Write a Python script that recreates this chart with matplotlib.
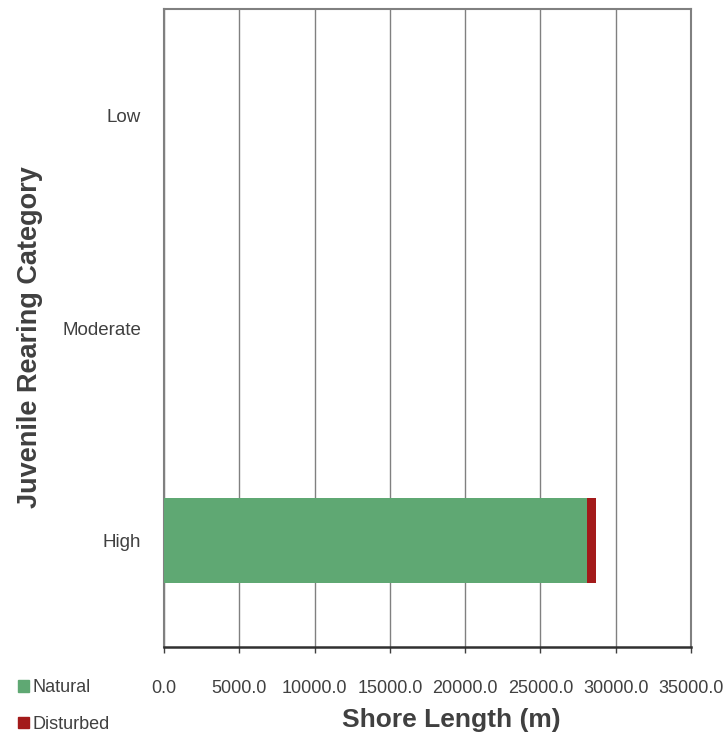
import matplotlib.pyplot as plt
from matplotlib.patches import Patch

plt.rcParams['font.family'] = ['Liberation Sans', 'DejaVu Sans']

categories = ['High', 'Moderate', 'Low']
natural = [28100, 0, 0]
disturbed = [600, 0, 0]
x_ticks = [0, 5000, 10000, 15000, 20000, 25000, 30000, 35000]

green = '#5fa873'
red = '#a31a1a'
txt = '#404040'

fig = plt.figure(figsize=(7.25, 7.38), dpi=100)
ax = fig.add_axes([164/725, 1-647/738, (691-164)/725, (647-9)/738])

ypos = list(range(len(categories)))
ax.barh(ypos, natural, height=0.4, color=green, zorder=3)
ax.barh(ypos, disturbed, left=natural, height=0.4, color=red, zorder=3)

ax.set_xlim(0, 35000)
ax.set_ylim(-0.5, 2.5)
ax.set_xticks(x_ticks)
ax.set_xticklabels(['{:.1f}'.format(v) for v in x_ticks])
ax.set_yticks(ypos)
ax.set_yticklabels(categories)
ax.grid(axis='x', color='#808080', linewidth=1, zorder=0)
ax.tick_params(axis='x', direction='out', length=4, width=1, colors='#404040',
               labelcolor=txt, pad=20, labelsize=13)
ax.tick_params(axis='y', length=0, pad=16.5, labelsize=13.5, labelcolor=txt)

for s in ['left', 'right', 'top']:
    ax.spines[s].set_color('#808080')
    ax.spines[s].set_linewidth(1.5)
ax.spines['bottom'].set_color('#303030')
ax.spines['bottom'].set_linewidth(1.8)

fig.text(451/725, 1-720/738, 'Shore Length (m)', fontsize=19, fontweight='bold',
         color=txt, ha='center', va='center')
fig.text(30/725, 1-337/738, 'Juvenile Rearing Category', rotation=90,
         fontsize=19.5, fontweight='bold', color=txt, ha='center', va='center')

handles = [Patch(color=green, label='Natural'), Patch(color=red, label='Disturbed')]
fig.legend(handles=handles, loc='upper left', bbox_to_anchor=(11/725, 1-672/738),
           frameon=False, fontsize=13, handlelength=0.6, handleheight=0.6,
           handletextpad=0.2, labelspacing=1.1, borderaxespad=0,
           labelcolor=txt)

fig.savefig('out.png', dpi=100)
